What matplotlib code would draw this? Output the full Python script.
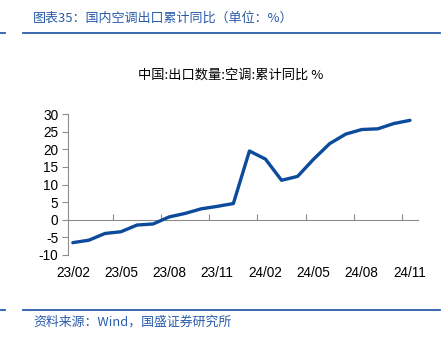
import matplotlib
matplotlib.use("Agg")
import matplotlib.pyplot as plt
from matplotlib.lines import Line2D

plt.rcParams['font.family'] = ['Noto Sans CJK SC', 'DejaVu Sans']

# Monthly cumulative YoY growth of China's air-conditioner exports (%)
months = ["23/02", "23/03", "23/04", "23/05", "23/06", "23/07", "23/08", "23/09",
          "23/10", "23/11", "23/12", "24/01", "24/02", "24/03", "24/04", "24/05",
          "24/06", "24/07", "24/08", "24/09", "24/10", "24/11"]
values = [-6.5, -5.8, -3.9, -3.4, -1.5, -1.2, 0.8, 1.8, 3.1, 3.8, 4.6,
          19.5, 17.2, 11.2, 12.3, 17.2, 21.6, 24.3, 25.6, 25.8, 27.3, 28.2]
tick_labels = ["23/02", "23/05", "23/08", "23/11", "24/02", "24/05", "24/08", "24/11"]
y_ticks = [-10, -5, 0, 5, 10, 15, 20, 25, 30]

header_title = "图表35：国内空调出口累计同比（单位：%）"
chart_title = "中国:出口数量:空调:累计同比 %"
source_note = "资料来源：Wind，国盛证券研究所"

W, H = 446, 337
fig = plt.figure(figsize=(W / 100, H / 100), dpi=100)
blue_hdr = "#2a5caa"
grey = "#8c8c8c"
tick_font = ["Liberation Sans", "DejaVu Sans"]

# Report header / footer decoration
fig.text(33 / W, 1 - 18 / H, header_title, color=blue_hdr, fontsize=9.4,
         va="center", ha="left")
for yy in (33, 310):
    fig.add_artist(Line2D([23 / W, 440 / W], [1 - yy / H] * 2, color=blue_hdr,
                          lw=1.3, transform=fig.transFigure))
    fig.add_artist(Line2D([0, 5 / W], [1 - yy / H] * 2, color=blue_hdr,
                          lw=1.3, transform=fig.transFigure))
fig.text(33 / W, 1 - 322 / H, source_note, color=blue_hdr, fontsize=9.3,
         va="center", ha="left")

fig.text(231 / W, 1 - 75 / H, chart_title, color="black", fontsize=9.5,
         ha="center", va="center")

ax = fig.add_axes([68 / W, 1 - 255 / H, 350 / W, 141 / H])
x = list(range(len(months)))
ax.plot(x, values, color="#0c4a9c", lw=2.4, solid_joinstyle="round",
        solid_capstyle="round")

ax.set_xlim(-0.3, 21.5)
ax.set_ylim(-10, 30)
ax.set_yticks(y_ticks)
ax.set_yticklabels([str(v) for v in y_ticks], family=tick_font, fontsize=9.8)
ax.tick_params(axis="y", direction="out", length=4, color=grey, pad=3)

label_pos = [months.index(m) for m in tick_labels]
ax.set_xticks(label_pos)
ax.set_xticklabels(tick_labels, family=tick_font, fontsize=9.8)
ax.tick_params(axis="x", length=0, pad=8)

for side in ("top", "right", "bottom"):
    ax.spines[side].set_visible(False)
ax.spines["left"].set_color(grey)

# Category axis drawn along y = 0 with tick marks between category groups
zero_loc = (0 - (-10)) / (30 - (-10))
sec = ax.secondary_xaxis(zero_loc)
sec.set_xticks([p + 2.5 for p in label_pos[:-1]])
sec.tick_params(direction="in", length=4, color=grey, labelbottom=False)
sec.spines["bottom"].set_color(grey)

fig.savefig("out.png", dpi=100)
